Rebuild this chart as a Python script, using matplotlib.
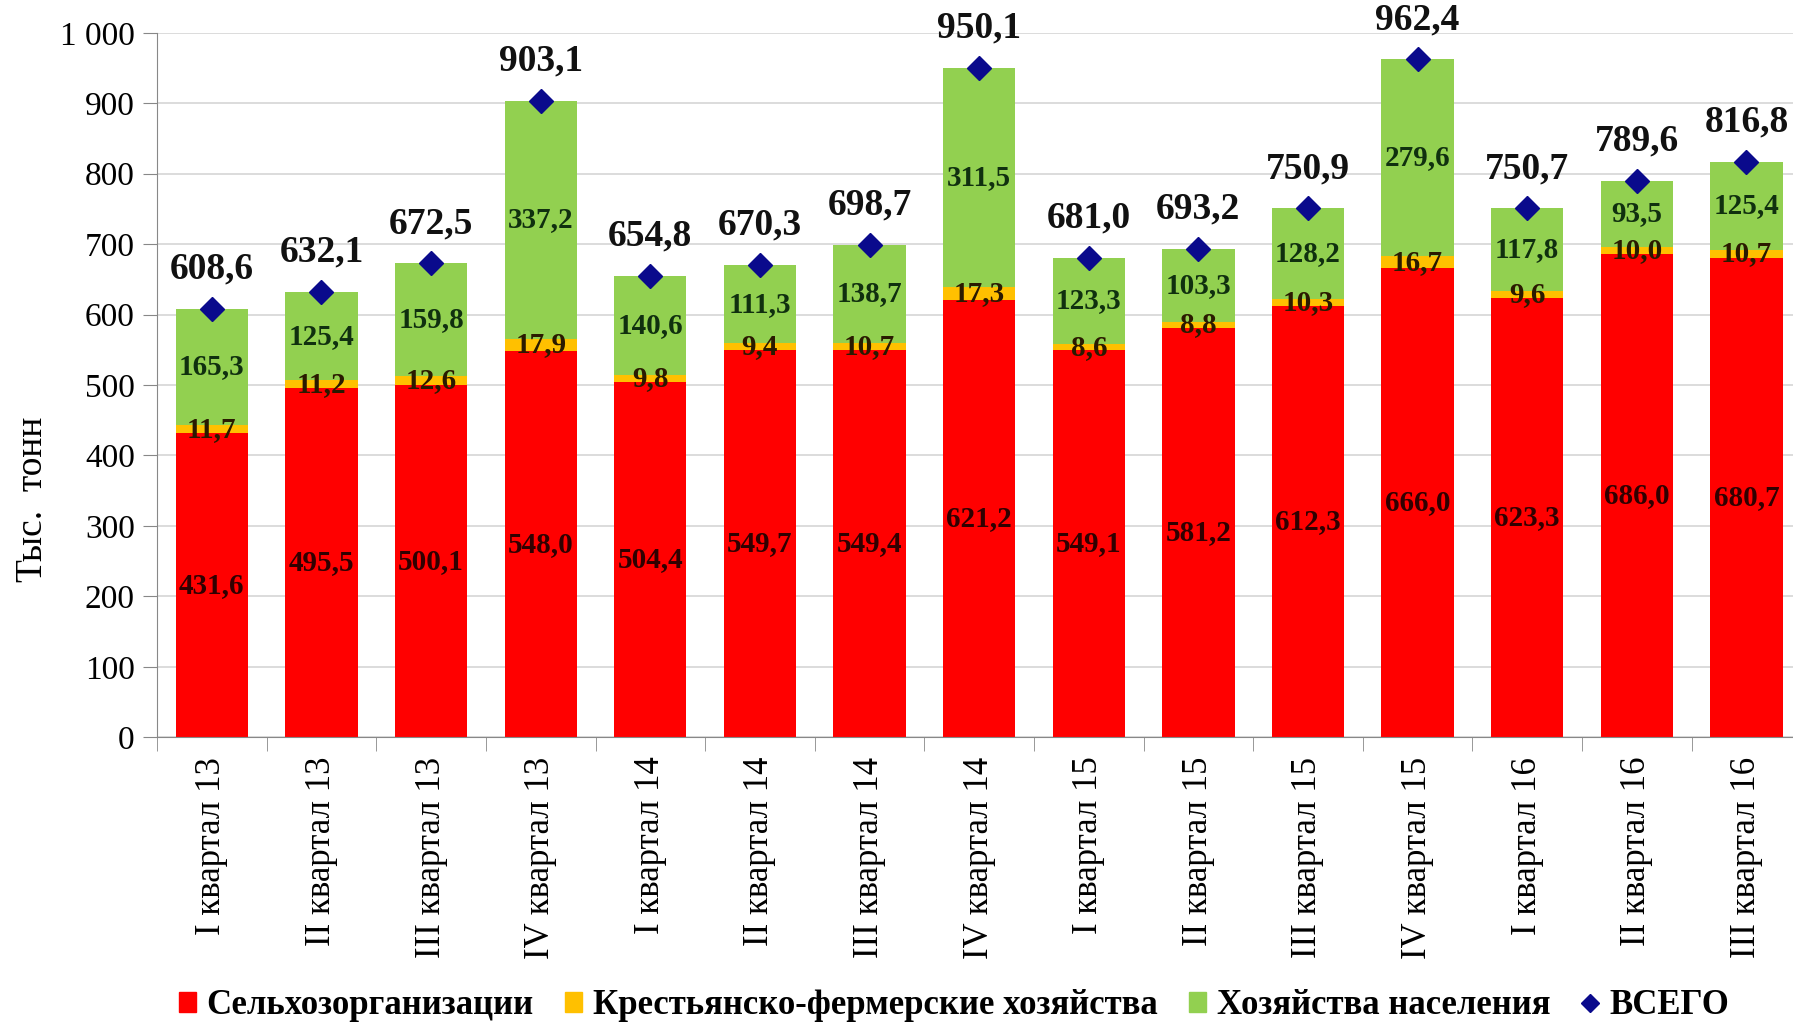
import numpy as np
import matplotlib.pyplot as plt
from matplotlib.lines import Line2D
from matplotlib.patches import Patch

plt.rcParams['font.family'] = ['Liberation Serif', 'DejaVu Serif']

quarters = ['I квартал 13', 'II квартал 13', 'III квартал 13', 'IV квартал 13',
            'I квартал 14', 'II квартал 14', 'III квартал 14', 'IV квартал 14',
            'I квартал 15', 'II квартал 15', 'III квартал 15', 'IV квартал 15',
            'I квартал 16', 'II квартал 16', 'III квартал 16']
selkhoz = [431.6, 495.5, 500.1, 548.0, 504.4, 549.7, 549.4, 621.2,
           549.1, 581.2, 612.3, 666.0, 623.3, 686.0, 680.7]
kfh = [11.7, 11.2, 12.6, 17.9, 9.8, 9.4, 10.7, 17.3,
       8.6, 8.8, 10.3, 16.7, 9.6, 10.0, 10.7]
naselenie = [165.3, 125.4, 159.8, 337.2, 140.6, 111.3, 138.7, 311.5,
             123.3, 103.3, 128.2, 279.6, 117.8, 93.5, 125.4]
vsego = [608.6, 632.1, 672.5, 903.1, 654.8, 670.3, 698.7, 950.1,
         681.0, 693.2, 750.9, 962.4, 750.7, 789.6, 816.8]

def fmt(v):
    return ('%.1f' % v).replace('.', ',')

x = np.arange(len(quarters))
red = np.array(selkhoz)
yel = np.array(kfh)
grn = np.array(naselenie)

fig = plt.figure(figsize=(17.93, 10.24), dpi=100)
ax = fig.add_axes([0.0876, 0.28, 0.917, 0.688])

w = 0.66
ax.bar(x, red, w, color='#FF0000', zorder=2)
ax.bar(x, yel, w, bottom=red, color='#FFC000', zorder=2)
ax.bar(x, grn, w, bottom=red + yel, color='#92D050', zorder=2)
ax.plot(x, vsego, linestyle='none', marker='D', markersize=12,
        color='#0A0A8C', zorder=4)

for i in range(len(x)):
    ax.text(x[i], red[i] / 2, fmt(red[i]), ha='center', va='center',
            fontsize=21, fontweight='bold', color='#300000', zorder=5)
    ax.text(x[i], red[i] + yel[i] / 2, fmt(yel[i]), ha='center', va='center',
            fontsize=21, fontweight='bold', color='#2a1a00', zorder=5)
    ax.text(x[i], red[i] + yel[i] + grn[i] / 2, fmt(grn[i]), ha='center',
            va='center', fontsize=21, fontweight='bold', color='#10300f', zorder=5)
    ax.annotate(fmt(vsego[i]), (x[i], vsego[i]), xytext=(0, 16),
                textcoords='offset points', ha='center', va='bottom',
                fontsize=27, fontweight='bold', color='#111111', zorder=5)

ax.set_xlim(-0.5, len(x) - 0.5)
ax.set_ylim(0, 1000)
ax.set_yticks(np.arange(0, 1001, 100))
ax.set_yticklabels(['0', '100', '200', '300', '400', '500', '600', '700',
                    '800', '900', '1 000'], fontsize=24)
ax.yaxis.grid(True, color='#D9D9D9', linewidth=1.3, zorder=0)
ax.set_axisbelow(True)

ax.set_xticks(x)
ax.set_xticklabels(quarters, rotation=90, fontsize=25)
ax.set_xticks(np.arange(-0.5, len(x), 1), minor=True)
ax.tick_params(axis='x', which='major', length=0, pad=14)
ax.tick_params(axis='x', which='minor', length=10, color='#888888')
ax.tick_params(axis='y', length=10, color='#888888', pad=6)

for s in ['top', 'right']:
    ax.spines[s].set_visible(False)
ax.spines['left'].set_color('#888888')
ax.spines['bottom'].set_color('#888888')

fig.text(0.018, 0.512, 'Тыс.  тонн', rotation=90, ha='center', va='center',
         fontsize=27)

handles = [Patch(color='#FF0000'), Patch(color='#FFC000'), Patch(color='#92D050'),
           Line2D([], [], linestyle='none', marker='D', markersize=9, color='#0A0A8C')]
labels = ['Сельхозорганизации', 'Крестьянско-фермерские хозяйства',
          'Хозяйства населения', 'ВСЕГО']
fig.legend(handles, labels, loc='center', bbox_to_anchor=(0.532, 0.018), ncol=4,
           frameon=False, prop={'size': 25, 'weight': 'bold'},
           handlelength=0.5, handleheight=0.5, handletextpad=0.3, columnspacing=0.9)

fig.savefig('out.png', dpi=100)
